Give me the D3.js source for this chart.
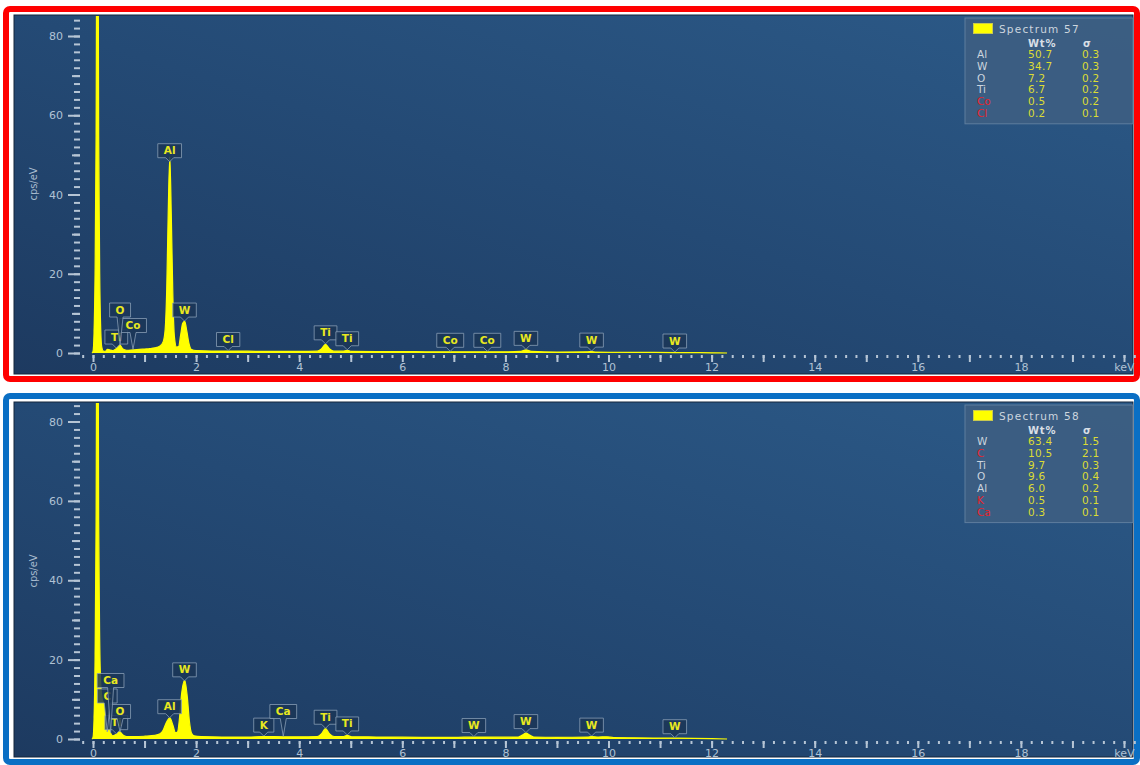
<!DOCTYPE html>
<html>
<head>
<meta charset="utf-8">
<script src="https://cdn.jsdelivr.net/npm/d3@7"></script>
<style>
  html, body { margin: 0; padding: 0; background: #ffffff; }
  svg { display: block; }
</style>
</head>
<body>
<svg id="chart" width="1140" height="765"></svg>
<script>
// ---- EDS spectrum 57: [energy keV, counts cps/eV] ----
const spectrum57 = [
  [-0.02, 0], [0.00, 0.4], [0.02, 5], [0.04, 20], [0.06, 55], [0.085, 160], [0.11, 55],
  [0.13, 20], [0.15, 6], [0.17, 1.5], [0.20, 0.5], [0.24, 0.4], [0.28, 0.9], [0.32, 0.8],
  [0.38, 0.6], [0.45, 1.1], [0.52, 2.0], [0.58, 1.0], [0.65, 0.7], [0.78, 0.8], [0.90, 0.9],
  [1.00, 1.0], [1.10, 1.1], [1.20, 1.3], [1.30, 1.8], [1.36, 2.8], [1.40, 6], [1.43, 16],
  [1.46, 36], [1.49, 49.5], [1.52, 34], [1.55, 14], [1.58, 4], [1.62, 1.5], [1.66, 1.6],
  [1.70, 4.5], [1.74, 7.5], [1.78, 8], [1.82, 5.5], [1.86, 2.5], [1.91, 0.9], [2.0, 0.6],
  [2.3, 0.5], [2.62, 0.5], [3.0, 0.45], [3.5, 0.4], [4.0, 0.4], [4.35, 0.45], [4.43, 1.0],
  [4.51, 2.2], [4.59, 1.0], [4.67, 0.45], [4.85, 0.45], [4.93, 0.7], [5.01, 0.4], [5.5, 0.35],
  [6.0, 0.35], [6.5, 0.3], [7.0, 0.3], [7.5, 0.3], [8.0, 0.3], [8.30, 0.4], [8.40, 0.8],
  [8.50, 0.4], [9.0, 0.25], [9.6, 0.3], [9.67, 0.35], [9.75, 0.25], [10.5, 0.15],
  [11.3, 0.12], [12.0, 0.05], [12.3, 0]
];

// ---- EDS spectrum 58 ----
const spectrum58 = [
  [-0.02, 0], [0.00, 0.4], [0.02, 5], [0.04, 20], [0.06, 55], [0.085, 160], [0.11, 55],
  [0.13, 25], [0.15, 14], [0.18, 10], [0.21, 9], [0.24, 6], [0.26, 2.5], [0.28, 1.5],
  [0.31, 2.6], [0.34, 1.5], [0.38, 0.8], [0.45, 1.2], [0.52, 1.8], [0.58, 1.0], [0.65, 0.6],
  [0.80, 0.6], [1.00, 0.7], [1.20, 0.9], [1.30, 1.3], [1.36, 2.2], [1.41, 3.8], [1.49, 5.3],
  [1.55, 3.5], [1.60, 1.6], [1.64, 1.8], [1.68, 5.5], [1.72, 11.5], [1.78, 14.8], [1.83, 10.5],
  [1.87, 4.5], [1.91, 1.5], [1.96, 0.8], [2.1, 0.6], [2.5, 0.5], [3.0, 0.5], [3.31, 0.6],
  [3.7, 0.55], [4.0, 0.55], [4.35, 0.6], [4.43, 1.3], [4.51, 2.6], [4.59, 1.3], [4.68, 0.6],
  [4.85, 0.6], [4.93, 0.9], [5.02, 0.55], [5.5, 0.5], [6.0, 0.45], [6.5, 0.4], [7.0, 0.4],
  [7.39, 0.5], [7.8, 0.45], [8.25, 0.5], [8.33, 1.0], [8.40, 1.5], [8.47, 1.0], [8.55, 0.5],
  [9.0, 0.4], [9.6, 0.5], [9.67, 0.6], [9.8, 0.5], [9.96, 0.55], [10.1, 0.35], [10.5, 0.3],
  [11.3, 0.2], [12.0, 0.08], [12.3, 0]
];

// ---- Peak identification markers (element, line energy keV, stacking tier) ----
const lines57 = [
  { el: "Ti", keV: 0.452, tier: 0 }, { el: "Co", keV: 0.776, tier: 1 }, { el: "O", keV: 0.525, tier: 2 },
  { el: "Al", keV: 1.487, tier: 0 }, { el: "W", keV: 1.775, tier: 0 }, { el: "Cl", keV: 2.622, tier: 0 },
  { el: "Ti", keV: 4.511, tier: 0 }, { el: "Ti", keV: 4.932, tier: 0 }, { el: "Co", keV: 6.930, tier: 0 },
  { el: "Co", keV: 7.649, tier: 0 }, { el: "W", keV: 8.398, tier: 0 }, { el: "W", keV: 9.672, tier: 0 },
  { el: "W", keV: 11.286, tier: 0 }
];
const lines58 = [
  { el: "Ti", keV: 0.452, tier: 0 }, { el: "O", keV: 0.525, tier: 1 }, { el: "C", keV: 0.277, tier: 2 },
  { el: "Ca", keV: 0.341, tier: 3 }, { el: "Al", keV: 1.487, tier: 0 }, { el: "W", keV: 1.775, tier: 0 },
  { el: "K", keV: 3.313, tier: 0 }, { el: "Ca", keV: 3.691, tier: 1 }, { el: "Ti", keV: 4.511, tier: 0 },
  { el: "Ti", keV: 4.932, tier: 0 }, { el: "W", keV: 7.388, tier: 0 }, { el: "W", keV: 8.398, tier: 0 },
  { el: "W", keV: 9.672, tier: 0 }, { el: "W", keV: 11.286, tier: 0 }
];

// ---- Quantification tables ----
const elements57 = ["Al", "W", "O", "Ti", "Co", "Cl"];
const wt57 = [50.7, 34.7, 7.2, 6.7, 0.5, 0.2];
const sigma57 = [0.3, 0.3, 0.2, 0.2, 0.2, 0.1];
const flagged57 = ["Co", "Cl"];

const elements58 = ["W", "C", "Ti", "O", "Al", "K", "Ca"];
const wt58 = [63.4, 10.5, 9.7, 9.6, 6.0, 0.5, 0.3];
const sigma58 = [1.5, 2.1, 0.3, 0.4, 0.2, 0.1, 0.1];
const flagged58 = ["C", "K", "Ca"];

// ---- Axis ticks ----
const yMajorTicks = [0, 20, 40, 60, 80];
const yMidTicks = [10, 30, 50, 70];
const yMinorTicks = d3.range(0, 85, 2);
const xLabelTicks = [0, 2, 4, 6, 8, 10, 12, 14, 16, 18, 20];
const xMajorTicks = d3.range(0, 21, 1);
const xMinorTicks = d3.range(-1, 102).map(i => +(i * 0.2).toFixed(1));

const FONT = "'DejaVu Sans', Verdana, sans-serif";
const svg = d3.select("#chart");
const defs = svg.append("defs");

const bg = defs.append("linearGradient").attr("id", "panelBg")
  .attr("x1", 0).attr("y1", 1).attr("x2", 1).attr("y2", 0);
bg.append("stop").attr("offset", "0%").attr("stop-color", "#1d3a60");
bg.append("stop").attr("offset", "50%").attr("stop-color", "#244a75");
bg.append("stop").attr("offset", "100%").attr("stop-color", "#2c5a88");

function valueAt(data, e) {
  const i = d3.bisector(d => d[0]).left(data, e);
  if (i <= 0) return data[0][1];
  if (i >= data.length) return data[data.length - 1][1];
  const a = data[i - 1], b = data[i];
  return a[1] + (b[1] - a[1]) * (e - a[0]) / (b[0] - a[0]);
}

function drawPanel(cfg, idx) {
  const g = svg.append("g");
  // coloured frame
  g.append("rect")
    .attr("x", 6).attr("y", cfg.top + 3)
    .attr("width", 1131).attr("height", cfg.height - 6)
    .attr("rx", 4)
    .attr("fill", "#ffffff")
    .attr("stroke", cfg.frame).attr("stroke-width", 6);

  const pw = 1119, ph = cfg.height - 17;
  const p = g.append("g").attr("transform", `translate(14,${cfg.top + 9})`);
  p.append("rect").attr("width", pw).attr("height", ph)
    .attr("fill", "url(#panelBg)")
    .attr("stroke", "#15263c").attr("stroke-width", 1);

  const x = d3.scaleLinear().domain([0, 20]).range([79, 1110]);
  const y = d3.scaleLinear().domain([0, 80]).range(cfg.yRange);
  const y0 = y(0);

  // clip for spectrum
  const clipId = "clip" + idx;
  defs.append("clipPath").attr("id", clipId)
    .append("rect").attr("x", 0).attr("y", 1).attr("width", pw).attr("height", y0);

  const area = d3.area().x(d => x(d[0])).y0(y0).y1(d => y(d[1])).curve(d3.curveMonotoneX);
  const line = d3.line().x(d => x(d[0])).y(d => y(d[1])).curve(d3.curveMonotoneX);
  p.append("path").datum(cfg.spectrum).attr("d", area)
    .attr("fill", "#ffff00").attr("clip-path", `url(#${clipId})`);
  p.append("path").datum(cfg.spectrum).attr("d", line)
    .attr("fill", "none").attr("stroke", "#ffff00").attr("stroke-width", 1.2)
    .attr("clip-path", `url(#${clipId})`);

  // y axis: minor, mid, major
  const tickColor = "#b6c5d5";
  const axY = 66;
  function styleAxis(sel, w) {
    sel.select(".domain").remove();
    sel.selectAll(".tick line").attr("stroke", tickColor).attr("stroke-width", w);
  }
  p.append("g").attr("transform", `translate(${axY},0)`)
    .call(d3.axisLeft(y).tickValues(yMinorTicks).tickSize(6).tickFormat(""))
    .call(s => styleAxis(s, 2));
  p.append("g").attr("transform", `translate(${axY},0)`)
    .call(d3.axisLeft(y).tickValues(yMidTicks).tickSize(8).tickFormat(""))
    .call(s => styleAxis(s, 2));
  p.append("g").attr("transform", `translate(${axY},0)`)
    .call(d3.axisLeft(y).tickValues(yMajorTicks).tickSize(12).tickPadding(5))
    .call(s => styleAxis(s, 2))
    .call(s => s.selectAll("text").attr("fill", "#b0c2d4")
      .style("font-family", FONT).style("font-size", "11px"));

  // y axis title
  p.append("text")
    .attr("transform", `translate(23,${cfg.titleY}) rotate(-90)`)
    .attr("text-anchor", "middle")
    .attr("fill", "#a9bccf")
    .style("font-family", "'DejaVu Sans Condensed', 'DejaVu Sans', sans-serif")
    .style("font-size", "11px")
    .style("font-stretch", "condensed")
    .text("cps/eV");

  // x axis: minor dots, integer ticks, labels
  const axX = y0 + 2;
  p.append("g").attr("transform", `translate(0,${axX})`)
    .call(d3.axisBottom(x).tickValues(xMinorTicks).tickSize(3).tickFormat(""))
    .call(s => styleAxis(s, 2));
  p.append("g").attr("transform", `translate(0,${axX})`)
    .call(d3.axisBottom(x).tickValues(xMajorTicks).tickSize(7).tickFormat(""))
    .call(s => styleAxis(s, 2));
  p.append("g").attr("transform", `translate(0,${axX})`)
    .call(d3.axisBottom(x).tickValues(xLabelTicks).tickSize(0).tickPadding(8)
      .tickFormat(d => d === 20 ? "keV" : d))
    .call(s => { s.select(".domain").remove(); s.selectAll(".tick line").remove(); })
    .call(s => s.selectAll("text").attr("fill", "#b0c2d4")
      .style("font-family", FONT).style("font-size", "11px"));

  // peak markers
  const mk = p.append("g");
  cfg.lines.forEach(L => {
    const tipX = x(L.keV);
    const v = Math.min(valueAt(cfg.spectrum, L.keV), 85);
    const tipY = y(v) - 0.5;
    const bottom = L.tier === 0 ? tipY - 4 : y0 - 5 - L.tier * 15.5;
    const gg = mk.append("g");
    const t = gg.append("text")
      .attr("x", tipX).attr("y", bottom - 3.5)
      .attr("text-anchor", "middle")
      .attr("fill", "#e8e820")
      .style("font-family", FONT).style("font-size", "10.5px").style("font-weight", "bold")
      .text(L.el);
    const tw = t.node().getComputedTextLength();
    const w = tw + 12, h = 14;
    const l = tipX - w / 2, r = tipX + w / 2, top = bottom - h;
    const hw = L.tier === 0 ? 4 : 3;
    gg.insert("path", "text")
      .attr("d", `M${l},${top}H${r}V${bottom}H${tipX + hw}L${tipX},${tipY}L${tipX - hw},${bottom}H${l}Z`)
      .attr("fill", "#1b3657").attr("fill-opacity", 0.85)
      .attr("stroke", "#8da3ba").attr("stroke-opacity", 0.75).attr("stroke-width", 1)
      .attr("stroke-linejoin", "round");
  });

  // legend table
  const lg = p.append("g").attr("transform", "translate(951,3)");
  const n = cfg.legend.elements.length;
  const rowH = 11.8;
  lg.append("rect").attr("width", 168).attr("height", 35 + n * rowH)
    .attr("fill", "#3d5e82").attr("fill-opacity", 0.9)
    .attr("stroke", "#5f7e9e").attr("stroke-width", 1);
  lg.append("rect").attr("x", 8.5).attr("y", 5.5).attr("width", 19).attr("height", 10)
    .attr("fill", "#ffff00").attr("stroke", "#c8c850").attr("stroke-width", 1);
  lg.append("text").attr("x", 34).attr("y", 14.5)
    .attr("fill", "#cdd6df").style("font-family", FONT).style("font-size", "10.5px")
    .style("letter-spacing", "1.2px")
    .text(cfg.legend.title);
  lg.append("text").attr("x", 63).attr("y", 29)
    .attr("fill", "#d8dfe6").style("font-family", FONT).style("font-size", "10px")
    .style("font-weight", "bold").style("letter-spacing", "0.8px").text("Wt%");
  lg.append("text").attr("x", 118).attr("y", 29)
    .attr("fill", "#d8dfe6").style("font-family", FONT).style("font-size", "10px")
    .style("font-weight", "bold").text("σ");
  cfg.legend.elements.forEach((el, i) => {
    const ry = 40 + i * rowH;
    const red = cfg.legend.flagged.includes(el);
    lg.append("text").attr("x", 12).attr("y", ry)
      .attr("fill", red ? "#e5232b" : "#cbd4de")
      .style("font-family", FONT).style("font-size", "10.5px").text(el);
    lg.append("text").attr("x", 63).attr("y", ry)
      .attr("fill", "#dcdc34")
      .style("font-family", FONT).style("font-size", "10.5px").style("letter-spacing", "0.3px")
      .text(cfg.legend.wt[i].toFixed(1));
    lg.append("text").attr("x", 117).attr("y", ry)
      .attr("fill", "#dcdc34")
      .style("font-family", FONT).style("font-size", "10.5px").style("letter-spacing", "0.3px")
      .text(cfg.legend.sigma[i].toFixed(1));
  });
}

drawPanel({
  top: 6, height: 376, frame: "#ff0000", yRange: [338, 21], titleY: 169,
  spectrum: spectrum57, lines: lines57,
  legend: { title: "Spectrum 57", elements: elements57, wt: wt57, sigma: sigma57, flagged: flagged57 }
}, 0);

drawPanel({
  top: 393, height: 372, frame: "#0a6fc4", yRange: [337, 19.5], titleY: 169,
  spectrum: spectrum58, lines: lines58,
  legend: { title: "Spectrum 58", elements: elements58, wt: wt58, sigma: sigma58, flagged: flagged58 }
}, 1);
</script>
</body>
</html>
